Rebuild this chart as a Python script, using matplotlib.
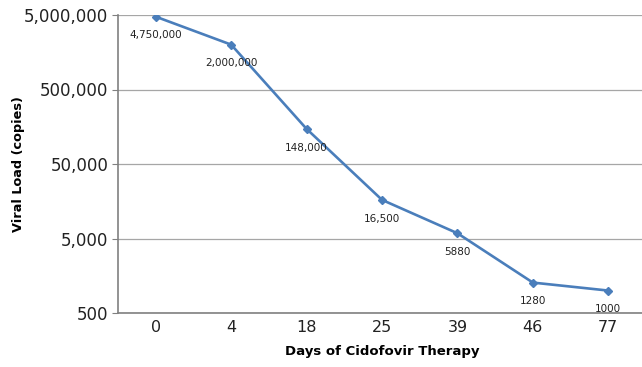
import matplotlib
matplotlib.use('Agg')
import matplotlib.pyplot as plt
from matplotlib.ticker import FixedLocator, NullLocator

days = ['0', '4', '18', '25', '39', '46', '77']
viral_load = [4750000, 2000000, 148000, 16500, 5880, 1280, 1000]
point_labels = ['4,750,000', '2,000,000', '148,000', '16,500', '5880', '1280', '1000']
y_ticks = [500, 5000, 50000, 500000, 5000000]
y_tick_labels = ['500', '5,000', '50,000', '500,000', '5,000,000']

fig = plt.figure(figsize=(6.42, 3.67), dpi=100)
ax = fig.add_axes([118/642, 54/367, 528/642, 298/367])

x = list(range(len(days)))
ax.plot(x, viral_load, color='#4a7ebb', linewidth=1.9, marker='D', markersize=4.5, zorder=3)

for xi, v, lab in zip(x, viral_load, point_labels):
    ax.annotate(lab, (xi, v), xytext=(0, -13.5), textcoords='offset points',
                ha='center', va='center', fontsize=7.5, color='#222222')

ax.set_yscale('log')
ax.set_ylim(500, 5000000)
ax.yaxis.set_major_locator(FixedLocator(y_ticks))
ax.yaxis.set_minor_locator(NullLocator())
ax.set_yticklabels(y_tick_labels, fontsize=12, color='#222222')
ax.set_xlim(-0.5, 6.5)
ax.set_xticks(x)
ax.set_xticklabels(days, fontsize=11.5, color='#222222')
ax.tick_params(axis='x', length=0, pad=5)
ax.tick_params(axis='y', length=4, color='#808080', pad=3)

ax.grid(axis='y', color='#a6a6a6', linewidth=0.9)
ax.set_axisbelow(True)
for s in ['top', 'right']:
    ax.spines[s].set_visible(False)
for s in ['left', 'bottom']:
    ax.spines[s].set_color('#808080')
    ax.spines[s].set_linewidth(1.2)

ax.set_xlabel('Days of Cidofovir Therapy', fontsize=9.5, fontweight='bold', labelpad=7)
ax.set_ylabel('Viral Load (copies)', fontsize=9.3, fontweight='bold')
ax.yaxis.set_label_coords(-0.176, 0.5)

fig.savefig('out.png', dpi=100)
